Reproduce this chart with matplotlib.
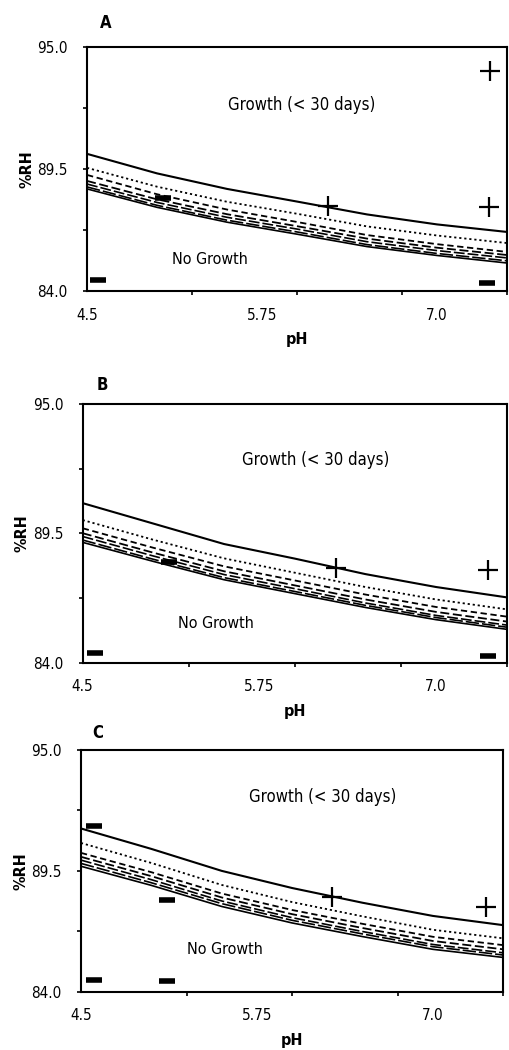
import numpy as np
import matplotlib
matplotlib.use('Agg')
import matplotlib.pyplot as plt

plt.rcParams['font.family'] = ['DejaVu Sans']
plt.rcParams['font.stretch'] = 'condensed'

# pH grid the boundary curves were read at
ph = [4.5, 5.0, 5.5, 6.0, 6.5, 7.0, 7.5]

# panel A boundaries (%RH), top to bottom
a_solid1 = [90.18, 89.30, 88.60, 88.03, 87.45, 87.00, 86.66]
a_dot    = [89.55, 88.70, 88.02, 87.48, 86.91, 86.50, 86.16]
a_dash1  = [89.23, 88.36, 87.67, 87.11, 86.52, 86.11, 85.76]
a_dash2  = [88.96, 88.13, 87.46, 86.92, 86.36, 85.95, 85.62]
a_dash3  = [88.82, 87.99, 87.32, 86.79, 86.22, 85.82, 85.49]
a_dash4  = [88.69, 87.86, 87.19, 86.66, 86.09, 85.69, 85.36]
a_solid2 = [88.60, 87.77, 87.10, 86.56, 86.00, 85.60, 85.26]

# panel B
b_solid1 = [90.79, 89.92, 89.05, 88.43, 87.77, 87.22, 86.78]
b_dot    = [90.07, 89.23, 88.44, 87.83, 87.22, 86.69, 86.27]
b_dash1  = [89.72, 88.89, 88.10, 87.50, 86.90, 86.37, 85.96]
b_dash2  = [89.51, 88.68, 87.89, 87.29, 86.69, 86.16, 85.75]
b_dash3  = [89.37, 88.54, 87.75, 87.15, 86.54, 86.01, 85.60]
b_dash4  = [89.22, 88.40, 87.62, 87.03, 86.44, 85.92, 85.51]
b_solid2 = [89.12, 88.31, 87.53, 86.94, 86.35, 85.83, 85.42]

# panel C
c_solid1 = [91.43, 90.50, 89.50, 88.72, 88.05, 87.45, 87.03]
c_dot    = [90.77, 89.86, 88.86, 88.08, 87.43, 86.82, 86.43]
c_dash1  = [90.32, 89.44, 88.47, 87.72, 87.09, 86.50, 86.12]
c_dash2  = [90.14, 89.26, 88.29, 87.53, 86.90, 86.31, 85.93]
c_dash3  = [89.99, 89.10, 88.13, 87.37, 86.74, 86.15, 85.77]
c_dash4  = [89.84, 88.96, 88.01, 87.25, 86.63, 86.05, 85.67]
c_solid2 = [89.71, 88.84, 87.88, 87.13, 86.51, 85.93, 85.56]

# observations: growth (+) and no growth (-)
a_grow_ph = [7.38, 6.22, 7.37]
a_grow_rh = [93.93, 87.85, 87.80]
a_none_ph = [5.04, 4.58, 7.36]
a_none_rh = [88.21, 84.50, 84.35]

b_grow_ph = [6.29, 7.37]
b_grow_rh = [88.04, 87.95]
b_none_ph = [5.11, 4.59, 7.37]
b_none_rh = [88.30, 84.40, 84.30]

c_grow_ph = [6.28, 7.38]
c_grow_rh = [88.32, 87.86]
c_none_ph = [4.59, 5.11, 4.59, 5.11]
c_none_rh = [91.53, 88.17, 84.53, 84.49]

panels = [
    ('A', [0.171, 0.7229, 0.825, 0.2324], (106, 23),
     [a_solid1, a_dot, a_dash1, a_dash2, a_dash3, a_dash4, a_solid2],
     a_grow_ph, a_grow_rh, a_none_ph, a_none_rh, (6.03, 92.39), (5.38, 85.44)),
    ('B', [0.1625, 0.3689, 0.833, 0.2461], (102, 385),
     [b_solid1, b_dot, b_dash1, b_dash2, b_dash3, b_dash4, b_solid2],
     b_grow_ph, b_grow_rh, b_none_ph, b_none_rh, (6.15, 92.63), (5.44, 85.67)),
    ('C', [0.159, 0.0555, 0.8297, 0.2302], (98, 733),
     [c_solid1, c_dot, c_dash1, c_dash2, c_dash3, c_dash4, c_solid2],
     c_grow_ph, c_grow_rh, c_none_ph, c_none_rh, (6.22, 92.85), (5.52, 85.90)),
]

styles = ['-', (0, (1.2, 1.6)), (0, (3.5, 2)), (0, (5, 2)), (0, (6.5, 1.8)), (0, (8, 1.8)), '-']
widths = [1.5, 1.3, 1.3, 1.3, 1.2, 1.2, 1.2]

fig = plt.figure(figsize=(5.09, 10.5), dpi=100)
for letter, rect, lpos, curves, gx, gy, nx, ny, gtxt, ntxt in panels:
    ax = fig.add_axes(rect)
    for y, ls, lw in zip(curves, styles, widths):
        ax.plot(ph, y, color='black', linestyle=ls, linewidth=lw)
    ax.plot(gx, gy, linestyle='none', marker='+', markersize=15,
            markeredgewidth=1.6, color='black')
    ax.plot(nx, ny, linestyle='none', marker='_', markersize=11.5,
            markeredgewidth=4, color='black')
    ax.text(gtxt[0], gtxt[1], 'Growth (< 30 days)', ha='center', va='center',
            fontsize=12)
    ax.text(ntxt[0], ntxt[1], 'No Growth', ha='center', va='center', fontsize=11.5)
    ax.set_xlim(4.5, 7.5)
    ax.set_ylim(84, 95)
    ax.set_xticks([4.5, 5.75, 7.0])
    ax.set_xticklabels(['4.5', '5.75', '7.0'])
    ax.set_xticks([4.5, 5.25, 6.0, 6.75, 7.5], minor=True)
    ax.set_yticks([84, 89.5, 95])
    ax.set_yticklabels(['84.0', '89.5', '95.0'])
    ax.set_yticks([86.75, 92.25], minor=True)
    ax.tick_params(axis='x', which='major', length=0, pad=12, labelsize=11)
    ax.tick_params(axis='x', which='minor', length=3, width=1.2, direction='out')
    ax.tick_params(axis='y', which='major', length=3, width=1.2, labelsize=11, pad=11)
    ax.tick_params(axis='y', which='minor', length=3, width=1.2)
    for s in ax.spines.values():
        s.set_linewidth(1.5)
    ax.set_xlabel('pH', fontsize=11.5, fontweight='bold', labelpad=7)
    ax.set_ylabel('%RH', fontsize=11.5, fontweight='bold', labelpad=2)
    fig.text(lpos[0] / 509, 1 - lpos[1] / 1050, letter, ha='center', va='center',
             fontsize=12, fontweight='bold')

fig.savefig('out.png', dpi=100)
